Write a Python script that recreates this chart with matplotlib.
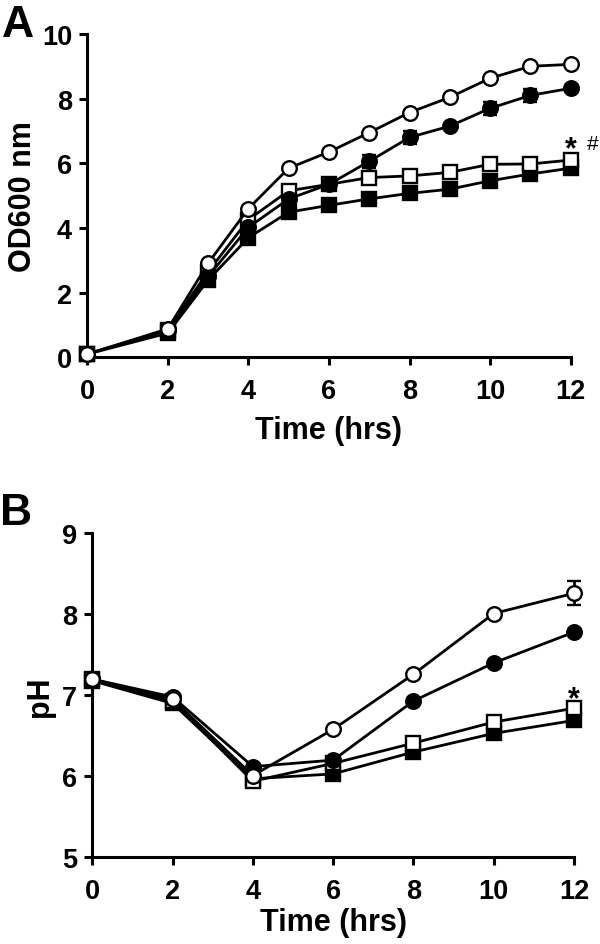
import matplotlib
matplotlib.use("Agg")
import matplotlib.pyplot as plt
import numpy as np

plt.rcParams['font.family'] = ['Liberation Sans', 'DejaVu Sans']
plt.rcParams['font.weight'] = 'bold'

# Panel A: OD600 growth
time_a = [0, 2, 3, 4, 5, 6, 7, 8, 9, 10, 11, 12]
od_open_circle = [0.1, 0.88, 2.91, 4.6, 5.85, 6.35, 6.95, 7.57, 8.04, 8.63, 9.0, 9.06]
od_filled_circle = [0.1, 0.85, 2.5, 4.02, 4.9, 5.35, 6.06, 6.8, 7.15, 7.7, 8.1, 8.32]
od_filled_circle_err = [0, 0, 0, 0, 0, 0, 0.2, 0.2, 0, 0.2, 0.2, 0]
od_open_square = [0.1, 0.85, 2.65, 4.26, 5.15, 5.35, 5.56, 5.61, 5.72, 5.97, 5.98, 6.1]
od_filled_square = [0.1, 0.75, 2.39, 3.7, 4.49, 4.7, 4.9, 5.07, 5.2, 5.46, 5.67, 5.85]

# Panel B: pH
time_b = [0, 2, 4, 6, 8, 10, 12]
ph_open_circle = [7.2, 6.95, 6.01, 6.58, 7.26, 8.01, 8.26]
ph_open_circle_err = [0, 0, 0, 0, 0, 0, 0.15]
ph_filled_circle = [7.2, 6.98, 6.12, 6.2, 6.93, 7.4, 7.78]
ph_open_square = [7.2, 6.93, 5.94, 6.16, 6.41, 6.67, 6.84]
ph_filled_square = [7.18, 6.9, 5.97, 6.03, 6.3, 6.53, 6.69]

fig = plt.figure(figsize=(6, 9.45), dpi=100)
axA = fig.add_axes([0.1455, 0.6208, 0.951 - 0.1455, 0.963 - 0.6208])
axB = fig.add_axes([0.1538, 0.0917, 0.9567 - 0.1538, 0.4346 - 0.0917])

lw = 2.0
ms = 10.5
mew = 1.7

def plot_series(ax, x, y, marker, filled, err=None, z=3):
    fc = 'black' if filled else 'white'
    if err is not None:
        ax.errorbar(x, y, yerr=err, color='black', lw=lw, marker=marker, ms=ms,
                    mfc=fc, mec='black', mew=mew, capsize=5, capthick=2,
                    elinewidth=2, clip_on=False, zorder=z)
    else:
        ax.plot(x, y, color='black', lw=lw, marker=marker, ms=ms,
                mfc=fc, mec='black', mew=mew, clip_on=False, zorder=z)

plot_series(axA, time_a, od_filled_square, 's', True, z=3)
plot_series(axA, time_a, od_open_square, 's', False, z=4)
plot_series(axA, time_a, od_filled_circle, 'o', True, err=od_filled_circle_err, z=5)
plot_series(axA, time_a, od_open_circle, 'o', False, z=6)

plot_series(axB, time_b, ph_filled_square, 's', True, z=3)
plot_series(axB, time_b, ph_open_square, 's', False, z=4)
plot_series(axB, time_b, ph_filled_circle, 'o', True, z=5)
plot_series(axB, time_b, ph_open_circle, 'o', False, err=ph_open_circle_err, z=6)

tick_fs = 19.5
label_fs = 22

for ax in (axA, axB):
    for s in ['top', 'right']:
        ax.spines[s].set_visible(False)
    for s in ['left', 'bottom']:
        ax.spines[s].set_linewidth(2.2)
    ax.tick_params(axis='both', direction='out', length=6, width=2.2,
                   labelsize=tick_fs)
    ax.tick_params(axis='x', pad=9)
    ax.tick_params(axis='y', pad=5)
    ax.set_xlim(0, 12)
    ax.set_xticks([0, 2, 4, 6, 8, 10, 12])
    ax.set_facecolor('none')

axA.set_ylim(0, 10)
axA.set_yticks([0, 2, 4, 6, 8, 10])
axB.set_ylim(5, 9)
axB.set_yticks([5, 6, 7, 8, 9])

for ax in (axA, axB):
    for lab in ax.get_xticklabels() + ax.get_yticklabels():
        lab.set_fontweight('bold')

axA.set_xlabel('Time (hrs)', fontsize=label_fs, fontweight='bold', labelpad=8)
axA.set_ylabel('OD600 nm', fontsize=label_fs, fontweight='bold')
axA.yaxis.set_label_coords(-0.102, 0.5)
axB.set_xlabel('Time (hrs)', fontsize=label_fs, fontweight='bold', labelpad=2)
axB.set_ylabel('pH', fontsize=label_fs, fontweight='bold')
axB.yaxis.set_label_coords(-0.078, 0.5)

axA.text(12, 6.45, '*', fontsize=22, fontweight='bold', ha='center', va='center')
axA.text(12.55, 6.6, '#', fontsize=15, fontweight='normal', ha='center', va='center', clip_on=False)
axB.text(12, 6.95, '*', fontsize=22, fontweight='bold', ha='center', va='center')

fig.text(0.003, 0.995, 'A', fontsize=32, fontweight='bold', ha='left', va='top')
fig.text(0.0, 0.478, 'B', fontsize=32, fontweight='bold', ha='left', va='top')

fig.savefig('out.png', dpi=100, facecolor='white')
